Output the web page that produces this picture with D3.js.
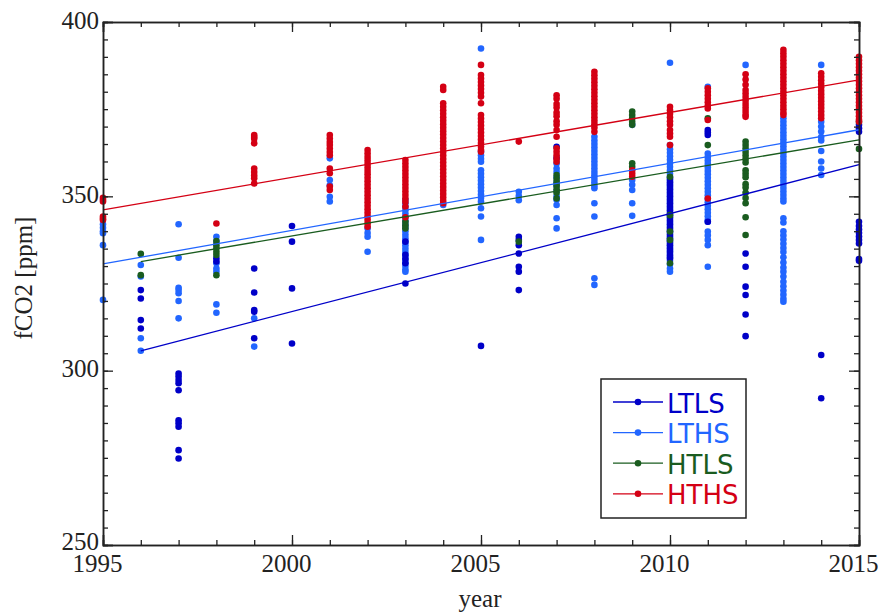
<!DOCTYPE html>
<html>
<head>
<meta charset="utf-8">
<script src="https://cdn.jsdelivr.net/npm/d3@7"></script>
<style>
  html, body { margin: 0; padding: 0; background: #fff; }
  svg { display: block; }
</style>
</head>
<body>
<svg id="chart" width="880" height="614"></svg>
<script>
// ---------------- DATA ----------------
const seriesNames = ["LTLS", "LTHS", "HTLS", "HTHS"];
const seriesColors = { LTLS: "#0000c8", LTHS: "#2266ff", HTLS: "#1a5c1f", HTHS: "#d40014" };

const xTickLabels = [1995, 2000, 2005, 2010, 2015];
const yTickLabels = [250, 300, 350, 400];

// LTLS (dark blue) points per year
const LTLS = [
  [1996, [323.1, 320.7, 314.5, 312.1]],
  [1997, [299.2, 298.3, 297.3, 296.4, 294.4, 285.8, 284.9, 283.9, 277.2, 274.8]],
  [1998, [332.2, 331.3]],
  [1999, [329.3, 322.4, 317.4, 316.9, 309.3]],
  [2000, [341.5, 337.0, 323.6, 307.8]],
  [2003, [337.0, 333.2, 332.0, 330.8, 325.0]],
  [2005, [307.1]],
  [2006, [338.4, 337.5, 336.0, 333.6, 329.8, 328.4, 323.1]],
  [2007, [364.2, 361.0]],
  [2010, [355.0, 354.0, 353.0, 352.0, 351.0, 350.0, 349.0, 348.0, 347.0, 346.0, 345.0, 344.0, 343.0, 342.0, 341.0, 340.0, 339.0, 338.0, 337.0, 336.0, 335.0, 334.0, 333.0, 332.2]],
  [2011, [369.0, 368.3, 367.6, 342.7]],
  [2012, [333.6, 329.8, 324.1, 321.7, 316.1, 309.9]],
  [2014, [304.5, 292.1]],
  [2015, [370.5, 369.5, 368.5, 342.7, 341.5, 340.5, 339.5, 338.5, 337.5, 336.5, 332.0, 331.5]]
];

// LTHS (light blue) points per year
const LTHS = [
  [1995, [342.0, 341.0, 340.0, 339.4, 336.0, 320.3]],
  [1996, [330.3, 327.0, 309.3, 305.7]],
  [1997, [342.0, 332.4, 323.8, 323.1, 322.2, 320.0, 315.0]],
  [1998, [338.4, 337.0, 330.8, 329.3, 328.4, 319.0, 316.6]],
  [1999, [315.0, 306.9]],
  [2001, [360.9, 354.7, 353.2, 349.9, 348.5]],
  [2002, [340.8, 339.5, 338.4, 334.1]],
  [2003, [349.0, 348.0, 347.0, 346.0, 345.0, 344.0, 343.0, 342.0, 341.0, 340.0, 339.0, 338.0, 337.0, 336.0, 335.0, 334.0, 333.0, 332.0, 331.0, 330.0, 329.0, 328.4]],
  [2004, [347.5]],
  [2005, [392.4, 362.8, 361.8, 360.8, 359.9, 357.5, 356.5, 355.5, 354.5, 353.5, 352.5, 351.5, 350.5, 349.5, 348.5, 346.6, 344.2, 337.5]],
  [2006, [351.3, 350.1, 348.9]],
  [2007, [359.4, 358.0, 357.0, 355.5, 354.0, 353.0, 351.5, 350.0, 349.0, 347.5, 343.7, 340.8]],
  [2008, [367.1, 366.0, 365.0, 364.0, 363.0, 362.0, 361.0, 360.0, 359.0, 358.0, 357.0, 356.0, 355.0, 354.0, 353.0, 352.3, 348.0, 344.2, 326.5, 324.6]],
  [2009, [370.5, 354.7, 353.3, 351.8, 348.0, 344.4]],
  [2010, [388.3, 364.7, 363.5, 362.5, 361.5, 360.5, 359.5, 358.5, 357.5, 356.5, 355.5, 354.5, 353.5, 352.5, 351.5, 350.5, 349.5, 348.5, 347.5, 346.5, 345.5, 344.5, 343.5, 342.5, 341.5, 340.5, 339.5, 338.5, 337.5, 336.5, 335.5, 334.5, 333.5, 332.5, 331.5, 330.5, 329.3, 328.4]],
  [2011, [381.4, 362.3, 361.3, 360.3, 359.3, 358.3, 357.3, 356.3, 355.3, 354.3, 353.3, 352.3, 351.3, 350.3, 349.3, 348.3, 347.3, 346.3, 345.3, 344.3, 343.3, 342.7, 339.9, 338.8, 337.5, 336.0, 329.8]],
  [2012, [387.7]],
  [2013, [372.4, 371.4, 370.4, 369.4, 368.4, 367.4, 366.4, 365.4, 364.4, 363.4, 362.4, 361.4, 360.4, 359.4, 358.4, 357.4, 356.4, 355.4, 354.4, 353.4, 352.4, 351.4, 350.4, 349.4, 348.5, 343.7, 342.5, 340.0, 338.8, 337.6, 336.4, 335.2, 334.0, 332.5, 331.0, 329.6, 328.4, 327.0, 325.5, 324.2, 323.0, 321.8, 320.6, 319.8]],
  [2014, [387.7, 371.4, 370.0, 368.6, 367.0, 366.0, 363.0, 360.0, 358.0, 356.1]]
];

// HTLS (dark green) points per year
const HTLS = [
  [1996, [333.5, 327.4]],
  [1998, [337.2, 336.0, 335.1, 334.1, 333.2, 327.4]],
  [2003, [342.7, 341.7, 340.8]],
  [2006, [337.0]],
  [2007, [356.1, 355.0, 354.0, 353.0, 352.0, 351.0, 349.4]],
  [2009, [374.3, 373.3, 372.4, 371.4, 370.5, 359.5, 358.5]],
  [2010, [355.6, 344.6, 339.9, 337.5, 330.8]],
  [2011, [372.4, 364.7]],
  [2012, [365.7, 364.7, 363.7, 362.7, 361.7, 360.7, 359.7, 357.5, 356.5, 355.5, 353.5, 352.5, 351.0, 349.5, 348.0, 344.0, 338.9]],
  [2015, [371.4, 363.6]]
];

// HTHS (red) points per year
const HTHS = [
  [1995, [349.6, 349.0, 348.5, 344.2, 343.6, 343.2]],
  [1998, [342.2]],
  [1999, [367.6, 367.0, 366.5, 365.2, 358.0, 357.0, 356.0, 355.2, 353.7]],
  [2001, [367.6, 366.6, 365.6, 364.7, 363.7, 362.7, 361.8, 358.0, 356.6, 352.8, 351.8]],
  [2002, [363.3, 362.3, 361.3, 360.3, 359.3, 358.3, 357.3, 356.3, 355.3, 354.3, 353.3, 352.3, 351.3, 350.3, 349.3, 348.3, 347.3, 346.3, 345.3, 344.3, 343.3, 342.3, 341.3]],
  [2003, [360.4, 359.4, 358.4, 357.4, 356.4, 355.4, 354.4, 353.4, 352.4, 351.4, 350.4, 349.4, 348.4, 347.0, 344.0]],
  [2004, [381.4, 380.5, 376.7, 375.7, 374.7, 373.7, 372.7, 371.7, 370.7, 369.7, 368.7, 367.7, 366.7, 365.7, 364.7, 363.7, 362.7, 361.7, 360.7, 359.7, 358.7, 357.7, 356.7, 355.7, 354.7, 353.7, 352.7, 351.7, 350.7, 349.7, 348.7, 348.0]],
  [2005, [387.7, 384.8, 383.8, 382.8, 381.8, 380.8, 379.7, 378.6, 376.7, 373.3, 372.3, 371.3, 370.3, 369.3, 368.3, 367.3, 366.3, 365.3, 364.3, 363.3, 362.8]],
  [2006, [365.7]],
  [2007, [379.0, 378.0, 376.5, 375.5, 374.0, 373.0, 371.5, 370.5, 369.0, 367.1, 363.8, 362.8, 361.8, 360.8, 359.9]],
  [2008, [385.7, 384.7, 383.7, 382.7, 381.7, 380.7, 379.7, 378.7, 377.7, 376.7, 375.7, 374.7, 373.7, 372.7, 371.7, 370.7, 369.7, 368.5]],
  [2009, [357.5, 356.5, 355.6]],
  [2010, [375.7, 374.7, 373.7, 372.7, 371.5, 370.5, 369.0, 368.0, 367.1, 364.7]],
  [2011, [381.0, 380.0, 379.0, 378.0, 377.0, 376.0, 375.2, 371.9, 349.4]],
  [2012, [385.0, 383.5, 382.0, 380.5, 379.5, 378.5, 377.5, 376.5, 375.5, 374.5, 373.5, 372.8]],
  [2013, [392.0, 391.0, 390.0, 389.0, 388.0, 387.0, 386.0, 385.0, 384.0, 383.0, 382.0, 381.0, 380.0, 379.0, 378.0, 377.0, 376.0, 375.0, 374.0, 373.3]],
  [2014, [385.3, 384.3, 383.3, 382.3, 381.3, 380.3, 379.3, 378.3, 377.3, 376.3, 375.3, 374.3, 373.3, 372.4]],
  [2015, [390.0, 389.0, 388.0, 387.0, 386.0, 385.0, 384.0, 383.0, 382.0, 381.0, 380.0, 379.0, 378.0, 377.0, 376.0, 375.0, 374.0, 373.0, 372.0, 371.4]]
];

// Trend lines (start and end points)
const fitLTLS = [[1996, 305.7], [2015, 359.1]];
const fitLTHS = [[1995, 330.6], [2015, 369.1]];
const fitHTLS = [[1996, 331.3], [2015, 366.2]];
const fitHTHS = [[1995, 346.1], [2015, 383.4]];

// ---------------- DRAWING ----------------
const svg = d3.select("#chart");
const W = 880, H = 614;
const m = { left: 103, right: 21, top: 22, bottom: 69 };
const x = d3.scaleLinear().domain([1995, 2015]).range([m.left, W - m.right]);
const y = d3.scaleLinear().domain([250, 400]).range([H - m.bottom, m.top]);

const pointSets = { LTLS, LTHS, HTLS, HTHS };
const fits = { LTLS: fitLTLS, LTHS: fitLTHS, HTLS: fitHTLS, HTHS: fitHTHS };

const plot = svg.append("g");
const line = d3.line().x(d => x(d[0])).y(d => y(d[1]));

// draw order: LTHS, LTLS, HTLS, HTHS
const drawOrder = ["LTHS", "LTLS", "HTLS", "HTHS"];
drawOrder.forEach(name => {
  const pts = [];
  pointSets[name].forEach(([yr, vals]) => vals.forEach(v => pts.push([yr, v])));
  plot.append("g").selectAll("circle").data(pts).join("circle")
    .attr("cx", d => x(d[0])).attr("cy", d => y(d[1])).attr("r", 3.3)
    .attr("fill", seriesColors[name]);
});
drawOrder.forEach(name => {
  plot.append("path").datum(fits[name]).attr("d", line)
    .attr("fill", "none").attr("stroke", seriesColors[name]).attr("stroke-width", 1.3);
});

// axes
const axisColor = "#222";
const fontSerif = "'Liberation Serif', 'Times New Roman', serif";
const minorYears = d3.range(1995, 2016, 1);
const minorVals = d3.range(250, 401, 5);

function styleAxis(g) {
  g.select(".domain").attr("stroke", axisColor).attr("stroke-width", 1.5);
  g.selectAll(".tick line").attr("stroke", axisColor).attr("stroke-width", 1.3);
}

// bottom
const gB = svg.append("g").attr("transform", `translate(0,${y(250)})`);
gB.call(d3.axisBottom(x).tickValues(minorYears).tickSize(-5).tickFormat(""));
styleAxis(gB);
const gB2 = svg.append("g").attr("transform", `translate(0,${y(250)})`);
gB2.call(d3.axisBottom(x).tickValues(xTickLabels).tickSize(-10).tickFormat(d3.format("d")));
styleAxis(gB2);
gB2.selectAll(".tick text").attr("y", 27).attr("dy", 0).attr("x", -6)
  .attr("font-family", fontSerif).attr("font-size", 25).attr("fill", axisColor);

// top
const gT = svg.append("g").attr("transform", `translate(0,${y(400)})`);
gT.call(d3.axisTop(x).tickValues(minorYears).tickSize(-5).tickFormat(""));
styleAxis(gT);
const gT2 = svg.append("g").attr("transform", `translate(0,${y(400)})`);
gT2.call(d3.axisTop(x).tickValues(xTickLabels).tickSize(-10).tickFormat(""));
styleAxis(gT2);

// left
const gL = svg.append("g").attr("transform", `translate(${x(1995)},0)`);
gL.call(d3.axisLeft(y).tickValues(minorVals).tickSize(-5).tickFormat(""));
styleAxis(gL);
const gL2 = svg.append("g").attr("transform", `translate(${x(1995)},0)`);
gL2.call(d3.axisLeft(y).tickValues(yTickLabels).tickSize(-10).tickFormat(d3.format("d")));
styleAxis(gL2);
gL2.selectAll(".tick text").attr("x", -4).attr("dy", 0).attr("y", d => d === 250 ? 4 : 6)
  .attr("font-family", fontSerif).attr("font-size", 25).attr("fill", axisColor);

// right
const gR = svg.append("g").attr("transform", `translate(${x(2015)},0)`);
gR.call(d3.axisRight(y).tickValues(minorVals).tickSize(-5).tickFormat(""));
styleAxis(gR);
const gR2 = svg.append("g").attr("transform", `translate(${x(2015)},0)`);
gR2.call(d3.axisRight(y).tickValues(yTickLabels).tickSize(-10).tickFormat(""));
styleAxis(gR2);

// axis titles
svg.append("text").attr("x", (x(1995) + x(2015)) / 2 - 1).attr("y", 607)
  .attr("text-anchor", "middle").attr("font-family", fontSerif).attr("font-size", 25)
  .attr("fill", axisColor).text("year");
svg.append("text").attr("transform", `translate(32,278) rotate(-90)`)
  .attr("text-anchor", "middle").attr("font-family", fontSerif).attr("font-size", 25)
  .attr("fill", axisColor).text("fCO2 [ppm]");

// legend
const lg = svg.append("g");
lg.append("rect").attr("x", 601).attr("y", 379).attr("width", 145).attr("height", 139)
  .attr("fill", "#fff").attr("stroke", "#222").attr("stroke-width", 1.5);
seriesNames.forEach((name, i) => {
  const cy = 402 + i * 30.6;
  lg.append("line").attr("x1", 613).attr("x2", 663).attr("y1", cy).attr("y2", cy)
    .attr("stroke", seriesColors[name]).attr("stroke-width", 1.3);
  lg.append("circle").attr("cx", 638).attr("cy", cy).attr("r", 3.3).attr("fill", seriesColors[name]);
  lg.append("text").attr("x", 667).attr("y", cy + 10.5)
    .attr("font-family", "'DejaVu Sans', sans-serif").attr("font-size", 26)
    .attr("fill", seriesColors[name]).text(name);
});
</script>
</body>
</html>
